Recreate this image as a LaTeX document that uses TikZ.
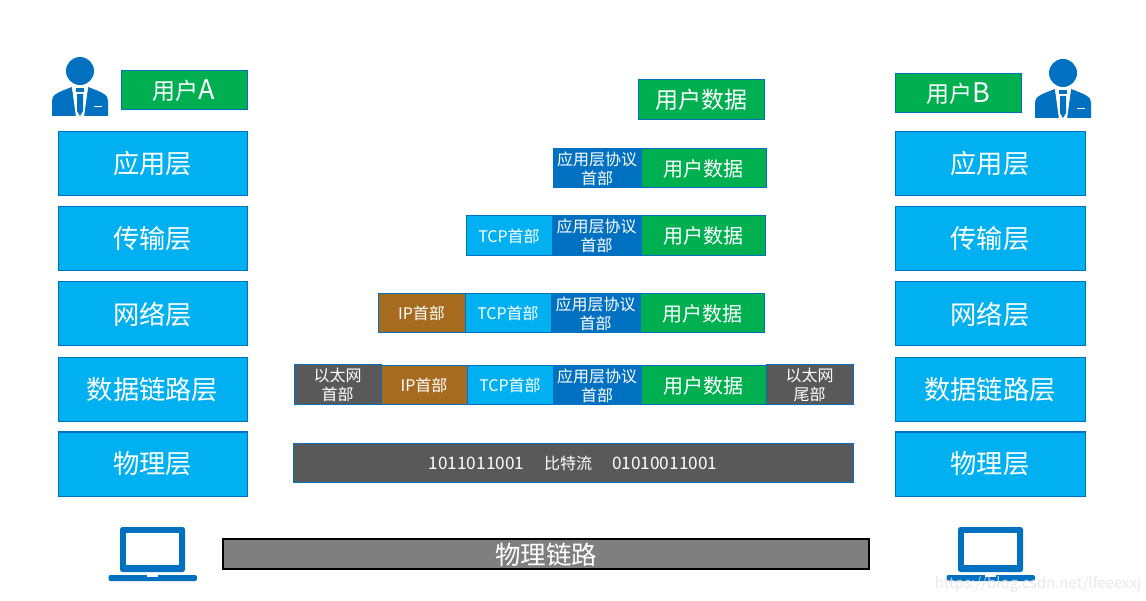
\documentclass[tikz,border=0pt]{standalone}
\usepackage{fontspec}
\setmainfont{Noto Sans CJK SC}
\definecolor{skyb}{HTML}{00B0F0}
\definecolor{edgeb}{HTML}{0070C0}
\definecolor{grn}{HTML}{00B050}
\definecolor{brn}{HTML}{A66B1F}
\definecolor{dgray}{HTML}{595959}
\definecolor{mgray}{HTML}{7F7F7F}
\tikzset{
  x=1pt,y=-1pt,
  cell/.style={draw=edgeb,line width=1pt,text=white,inner sep=0pt,outer sep=0pt,align=center,anchor=center},
  layerbox/.style={cell,fill=skyb,font=\fontsize{26.3}{30}\selectfont},
  userbox/.style={cell,fill=grn,font=\fontsize{23}{27}\selectfont},
  databox/.style={cell,fill=grn,font=\fontsize{20}{24}\selectfont},
  apphdr/.style={cell,fill=edgeb,font=\fontsize{16}{19}\selectfont},
  tcphdr/.style={cell,fill=skyb,font=\fontsize{16}{19}\selectfont},
  iphdr/.style={cell,fill=brn,font=\fontsize{16}{19}\selectfont},
  ethhdr/.style={cell,fill=dgray,font=\fontsize{16}{19}\selectfont},
  bitsbox/.style={cell,fill=dgray,font=\fontsize{16}{19}\selectfont},
  linkbox/.style={draw=black,line width=2pt,fill=mgray,text=white,inner sep=0pt,outer sep=0pt,anchor=center,font=\fontsize{25.5}{30}\selectfont},
  iconfill/.style={fill=edgeb,draw=none},
}
\newcommand{\dy}{1}
% name, x1, y1, x2, y2, style, text
\newcommand{\bx}[7]{%
  \pgfmathsetmacro{\bw}{#4-#2}\pgfmathsetmacro{\bh}{#5-#3}%
  \pgfmathsetmacro{\cxx}{(#2+#4)/2}\pgfmathsetmacro{\cyy}{(#3+#5)/2+\dy}%
  \node[#6,minimum width=\bw pt,minimum height=\bh pt] (#1) at (\cxx,\cyy) {#7};}
\newcommand{\biglet}[1]{{\fontsize{27}{27}\selectfont #1}}
\newcommand{\dig}[1]{{\fontsize{17.2}{19}\selectfont #1}}
% person: head centre x, head centre y
\newcommand{\personicon}[2]{%
  \begin{scope}[shift={(#1,#2)}]
    \fill[iconfill] (0,0) circle (14);
    \fill[iconfill] (-28,45) -- (-28,30) .. controls (-28,24) and (-24,22) .. (-8,16) -- (-8,16.5) -- (-3.5,45) -- cycle;
    \fill[iconfill] (28,45) -- (28,30) .. controls (28,24) and (24,22) .. (8,16) -- (8,16.5) -- (3.5,45) -- cycle;
    \fill[white] (-8,16) -- (8,16) -- (4,46) -- (-4,46) -- cycle;
    \fill[iconfill] (-4,17) -- (4,17) -- (4,21) -- (-4,21) -- cycle;
    \fill[iconfill] (-3,23) -- (3,23) -- (3,40) -- (0,45) -- (-3,40) -- cycle;
    \fill[white] (13.5,35) rectangle (21.5,36.5);
  \end{scope}}
% laptop: left of screen, top of screen
\newcommand{\laptopicon}[2]{%
  \begin{scope}[shift={(#1,#2)}]
    \fill[iconfill,rounded corners=2.5pt] (0,45) -- (0,0) -- (65,0) -- (65,45) -- cycle;
    \fill[white] (6,6) rectangle (59,38);
    \fill[iconfill,rounded corners=2pt] (-11.5,48) -- (77,48) -- (77,54) -- (-11.5,54) -- cycle;
    \fill[white] (27,48) rectangle (38,50);
  \end{scope}}
\begin{document}
\begin{tikzpicture}
\useasboundingbox (0,0) rectangle (1146,601);
\fill[white] (0,0) rectangle (1146,601);

\personicon{80}{71}
\personicon{1063}{73}
\laptopicon{120}{527}
\laptopicon{958}{527}

\bx{userA}{121}{70}{247}{109}{userbox}{用户\biglet{A}}
\bx{userB}{895}{73}{1021}{112}{userbox}{用户\biglet{B}}

\bx{la}{58}{131}{247}{195}{layerbox}{应用层}
\bx{lb}{58}{206}{247}{270}{layerbox}{传输层}
\bx{lc}{58}{281}{247}{345}{layerbox}{网络层}
\bx{ld}{58}{357}{247}{421}{layerbox}{数据链路层}
\bx{le}{58}{431}{247}{495}{layerbox}{物理层}

\bx{ra}{895}{131}{1085}{195}{layerbox}{应用层}
\bx{rb}{895}{206}{1085}{270}{layerbox}{传输层}
\bx{rc}{895}{281}{1085}{345}{layerbox}{网络层}
\bx{rd}{895}{357}{1085}{421}{layerbox}{数据链路层}
\bx{re}{895}{431}{1085}{495}{layerbox}{物理层}

\bx{top}{638}{79}{764}{119}{userbox}{用户数据}

\bx{r1a}{553}{148}{641}{187}{apphdr}{应用层协议\\首部}
\bx{r1d}{641}{148}{766}{187}{databox}{用户数据}

\bx{r2t}{466}{215}{552}{255}{tcphdr}{TCP首部}
\bx{r2a}{552}{215}{641}{255}{apphdr}{应用层协议\\首部}
\bx{r2d}{641}{215}{765}{255}{databox}{用户数据}

\bx{r3i}{378}{293}{465}{332}{iphdr}{IP首部}
\bx{r3t}{465}{293}{551}{332}{tcphdr}{TCP首部}
\bx{r3a}{551}{293}{640}{332}{apphdr}{应用层协议\\首部}
\bx{r3d}{640}{293}{764}{332}{databox}{用户数据}

\bx{r4i}{381}{365}{467}{404}{iphdr}{IP首部}
\bx{r4t}{467}{365}{553}{404}{tcphdr}{TCP首部}
\bx{r4a}{553}{365}{641}{404}{apphdr}{应用层协议\\首部}
\bx{r4d}{641}{365}{766}{404}{databox}{用户数据}
\bx{r4e}{294}{364}{381}{404}{ethhdr}{以太网\\首部}
\bx{r4f}{766}{364}{853}{404}{ethhdr}{以太网\\尾部}

\renewcommand{\dy}{0}
\bx{bits}{293}{443}{853}{482}{bitsbox}{\raisebox{0pt}[13.4pt][0pt]{\dig{1011011001}\hspace{20pt}比特流\hspace{20pt}\dig{01010011001}}}
\bx{link}{223}{539}{869}{569}{linkbox}{\raisebox{0pt}[21.4pt][0pt]{物理链路}}

\node[font=\fontsize{15}{20}\selectfont,text=gray!22,inner sep=0pt,anchor=center,opacity=0.8] (wm) at (1038,584) {https://blog.csdn.net/lfeeexxj};
\end{tikzpicture}
\end{document}
